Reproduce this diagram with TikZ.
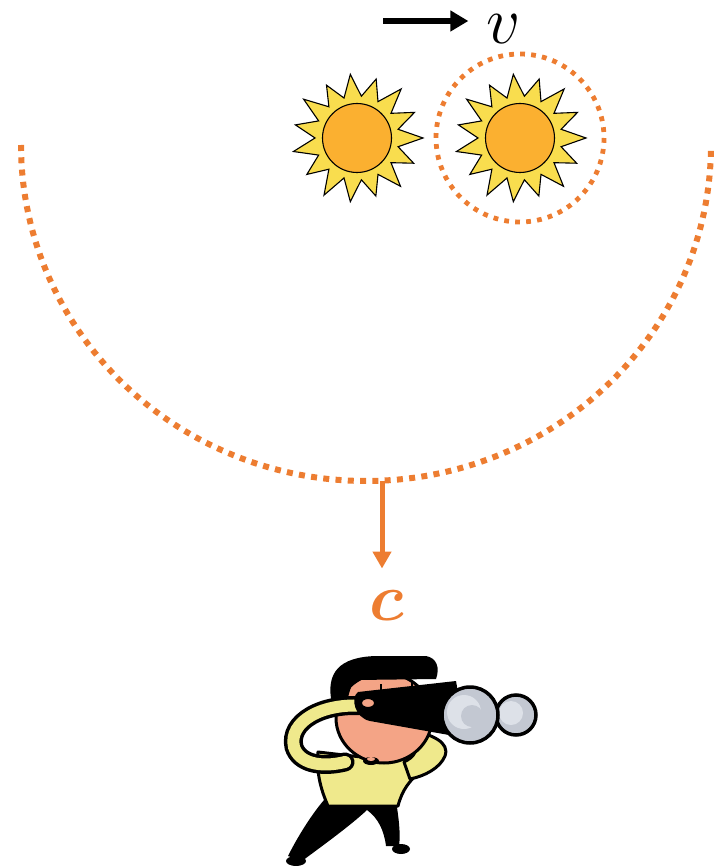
\documentclass[tikz,border=0pt]{standalone}
\usepackage{bm}
\usetikzlibrary{arrows.meta}
\definecolor{dotorange}{HTML}{ED7D31}
\definecolor{rayyellow}{HTML}{F9DD4E}
\definecolor{sunorange}{HTML}{FBB030}
\definecolor{shirt}{HTML}{EFE98C}
\definecolor{skin}{HTML}{F4A486}
\definecolor{lens}{HTML}{C3C8D2}
\definecolor{lenslight}{HTML}{DDE1E8}
\begin{document}
\begin{tikzpicture}[x=1pt,y=-1pt,
  dotline/.style={dotorange, line width=6pt, dash pattern=on 6pt off 6.3pt},
  dotring/.style={dotorange, line width=4.8pt, dash pattern=on 4.8pt off 6.2pt},
  outline/.style={draw=black, line width=3pt, line join=round},
  biglabel/.style={inner sep=0pt, scale=2.7, font=\Huge},
  sun/.pic={
    \filldraw[fill=rayyellow, draw=black, line width=1.1pt, line join=miter]
      (-12:42) \foreach \i/\r in {0/66,1/62,2/65,3/61,4/64,5/66,6/62,7/65,8/63,9/66,10/61,11/64,12/62,13/66,14/63}
      { -- (\i*24:\r) -- (\i*24+12:42) } -- cycle;
    \filldraw[fill=sunorange, draw=black, line width=1.1pt] (0,0) circle[radius=34.5];
  }]
\useasboundingbox (0,0) rectangle (721,866);

% half-ring of dots
\draw[dotline] plot[domain=180:0, samples=120, smooth] ({366+345*cos(\x)},{145+336*sin(\x)});

% the two suns, the moving one ringed
\pic (sunA) at (357,138) {sun};
\pic (sunB) at (520,138) {sun};
\draw[dotring] (520,138) circle[radius=84];

% velocity arrow and label
\node[biglabel] (vlabel) at (504,29) {$v$};
\coordinate (vtail) at (383,21);
\draw[line width=6pt, -{Triangle[length=18pt,width=20pt]}, shorten >=18pt] (vtail) -- (vtail -| vlabel.west);

% light speed arrow and label
\coordinate (arcbot) at (382,481);
\node[biglabel, text=dotorange] (clabel) at (387,606) {$\bm{c}$};
\draw[dotorange, line width=5pt, -{Triangle[length=17pt,width=18pt]}, shorten >=22pt] (arcbot) -- (arcbot |- clabel.north);

% observer: legs and feet
\fill[black] (324,800) -- (396,800) .. controls (398,815) and (401,832) .. (399,846) -- (386,846)
  .. controls (384,830) and (378,818) .. (367,810) .. controls (350,826) and (322,846) .. (302,861)
  -- (288,856) .. controls (298,836) and (312,814) .. (324,800) -- cycle;
\fill[black] (296,861) ellipse[x radius=10, y radius=5];
\fill[black] (401,849) ellipse[x radius=9, y radius=5];

% torso and right arm
\filldraw[fill=shirt, outline] (318,752) .. controls (316,775) and (322,792) .. (328,806) -- (398,806)
  .. controls (402,790) and (410,780) .. (420,772) -- (414,742) -- (370,758) -- cycle;
\filldraw[fill=shirt, outline] (412,730) .. controls (432,735) and (450,742) .. (445,756)
  .. controls (440,768) and (425,776) .. (410,779) -- (404,762) .. controls (414,757) and (420,750) .. (410,742) -- cycle;

% face and hair
\filldraw[fill=skin, outline] (384,718) ellipse[x radius=48, y radius=45];
\fill[black] (332,704) .. controls (325,672) and (340,657) .. (376,656) -- (426,656)
  .. controls (437,658) and (440,668) .. (436,679) -- (356,680) .. controls (350,686) and (348,696) .. (347,705) -- cycle;

% left arm looping up to the binoculars
\draw[black, line width=19pt, line cap=round] (366,706) .. controls (322,702) and (288,722) .. (294,747) .. controls (299,763) and (320,768) .. (345,762);
\draw[shirt, line width=12pt, line cap=round] (366,706) .. controls (322,702) and (288,722) .. (294,747) .. controls (299,763) and (320,768) .. (345,762);

% mouth
\fill[black] (371,761) ellipse[x radius=8, y radius=4];
\fill[skin] (371,759) ellipse[x radius=4, y radius=2];

% binoculars
\fill[black] (358,692) -- (456,681) -- (466,738) -- (370,721) .. controls (355,718) and (350,698) .. (358,692) -- cycle;
\filldraw[fill=skin, draw=black, line width=2pt] (368,703) ellipse[x radius=7, y radius=5];
\draw[line width=2.5pt] (381,684) -- (381,694) (412,681) -- (412,690);
\filldraw[fill=lens, draw=black, line width=3.5pt] (516,715) circle[radius=20];
\fill[lenslight] (511,713) circle[radius=12];
\filldraw[fill=lens, draw=black, line width=3.5pt] (470,715) circle[radius=28];
\fill[lenslight] (464,712) circle[radius=17];
\fill[lens] (472,716) circle[radius=11];
\end{tikzpicture}
\end{document}
